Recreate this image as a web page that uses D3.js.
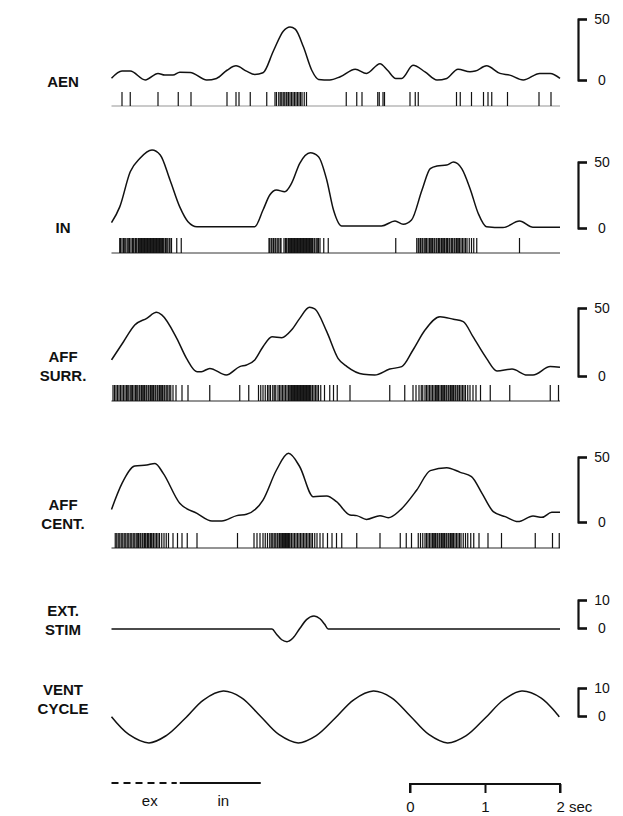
<!DOCTYPE html>
<html>
<head>
<meta charset="utf-8">
<script src="https://cdn.jsdelivr.net/npm/d3@7"></script>
<style>
  html, body { margin: 0; padding: 0; background: #fff; }
  svg { display: block; }
  text { font-family: "Liberation Sans", Arial, sans-serif; fill: #111; }
</style>
</head>
<body>
<svg id="chart" width="623" height="816"></svg>
<script>
// ---- smoothed firing rates (impulses/s) as [time s, rate] ----
const aenRate = [[0.02,1.4],[0.16,7.3],[0.27,7.3],[0.47,0],[0.64,5.4],[0.73,4],[0.84,4],[0.93,6.4],[1.07,6.2],
  [1.29,0],[1.42,1.3],[1.56,8],[1.68,11.6],[1.82,7.3],[1.93,4.6],[2.04,5.9],[2.18,24],[2.31,40],[2.40,43.5],
  [2.47,41.7],[2.58,27],[2.69,8],[2.78,0.5],[2.93,0],[3.07,2.7],[3.27,8.9],[3.42,5.4],[3.60,13.4],[3.70,8],
  [3.81,1.3],[3.89,1.3],[4.04,12],[4.20,6.7],[4.36,0],[4.49,1.3],[4.64,8.9],[4.80,6.7],[4.87,7.3],[5.02,11.6],
  [5.20,5.4],[5.33,4],[5.51,0],[5.73,5.4],[5.87,5.4],[6.0,1.4]];

const inRate = [[0.02,4],[0.13,16],[0.27,42.6],[0.40,52.8],[0.56,59],[0.67,55.3],[0.80,36.4],[0.93,16],[1.04,4.8],
  [1.16,1],[1.93,1],[2.04,13.6],[2.13,25],[2.22,28.8],[2.33,27.5],[2.42,33.8],[2.53,49],[2.67,57],[2.78,54],
  [2.89,36.4],[2.98,13.6],[3.09,1.5],[3.62,1.5],[3.80,5.3],[3.91,2.8],[4.02,6],[4.16,28.8],[4.27,45],[4.36,47],
  [4.49,47.7],[4.58,50],[4.69,45],[4.80,30],[4.91,11],[5.02,1],[5.24,0.3],[5.46,5.3],[5.64,0.5],[6.0,0.5]];

const surrRate = [[0.02,11.8],[0.18,25.2],[0.33,37.5],[0.49,42.4],[0.62,46.8],[0.69,44.9],[0.89,27.7],[1.02,13],
  [1.16,3.2],[1.22,3.2],[1.33,5.6],[1.55,0.7],[1.73,6.9],[1.82,8.1],[1.93,11.8],[2.04,21.5],[2.16,28.9],
  [2.29,28.2],[2.42,33.8],[2.53,42.4],[2.66,50.5],[2.73,49.3],[2.89,32.6],[3.04,13],[3.16,6.9],[3.38,1.2],
  [3.53,0.7],[3.73,5.1],[3.89,6.9],[4.04,19.1],[4.20,33.8],[4.40,43.6],[4.58,41.7],[4.71,40],[4.84,28.9],
  [5.02,13],[5.16,3.7],[5.36,5.1],[5.56,0.7],[5.64,0.7],[5.87,6.9],[6.0,6.4]];

const centRate = [[0.02,9.7],[0.16,29.7],[0.33,43],[0.49,43.8],[0.60,45],[0.71,37.4],[0.93,14.4],[1.16,6.7],
  [1.36,0.8],[1.49,0.8],[1.69,4.9],[1.82,5.9],[2.04,16.9],[2.22,40],[2.38,52.8],[2.53,42.5],[2.71,19.5],
  [2.89,20],[3.02,15.6],[3.20,5.4],[3.29,4.9],[3.42,2],[3.60,4.9],[3.71,3.3],[3.87,9.2],[4.09,24.6],[4.27,39.5],
  [4.49,41.8],[4.67,38.2],[4.82,34.9],[4.96,22],[5.11,8],[5.27,4.1],[5.44,0.3],[5.64,4.6],[5.76,3.6],
  [5.89,7.5],[6.0,7.5]];

// ---- spike times (s) ----
const aenSpikes = [0.16,0.27,0.64,0.91,1.08,1.56,1.68,1.72,1.87,2.09,2.20,2.22,2.25,2.27,2.29,2.31,2.33,2.35,2.36,
  2.38,2.40,2.42,2.44,2.46,2.48,2.50,2.52,2.54,2.56,2.59,2.62,3.15,3.29,3.36,3.57,3.59,3.64,3.66,4.00,4.07,
  4.11,4.62,4.67,4.82,4.98,5.04,5.09,5.30,5.72,5.88];

const inSpikes = [0.13,0.14,0.16,0.18,0.19,0.21,0.23,0.25,0.26,0.28,0.30,0.31,0.32,0.34,0.35,0.36,0.38,0.39,0.40,
  0.41,0.42,0.43,0.44,0.45,0.46,0.47,0.48,0.49,0.50,0.51,0.52,0.53,0.54,0.55,0.56,0.57,0.58,0.59,0.60,0.61,
  0.62,0.63,0.64,0.65,0.66,0.67,0.68,0.69,0.70,0.71,0.72,0.74,0.75,0.77,0.79,0.80,0.82,0.89,0.95,
  2.12,2.13,2.15,2.16,2.18,2.20,2.21,2.23,2.25,2.27,2.28,2.32,2.34,2.35,2.36,2.38,2.39,2.40,2.41,2.42,2.43,
  2.44,2.45,2.46,2.47,2.48,2.49,2.50,2.51,2.52,2.53,2.54,2.55,2.56,2.57,2.58,2.59,2.60,2.61,2.62,2.63,2.64,
  2.65,2.66,2.67,2.68,2.69,2.70,2.72,2.73,2.75,2.77,2.78,2.80,2.85,2.91,
  3.81,
  4.09,4.11,4.12,4.14,4.16,4.17,4.19,4.21,4.22,4.24,4.26,4.27,4.29,4.30,4.32,4.33,4.35,4.36,4.38,4.39,4.40,
  4.42,4.43,4.45,4.46,4.48,4.49,4.50,4.52,4.53,4.55,4.56,4.57,4.59,4.60,4.62,4.63,4.65,4.66,4.68,4.70,4.72,
  4.74,4.76,4.79,4.82,4.85,4.89,
  5.46];

const surrSpikes = [0.04,0.06,0.08,0.10,0.12,0.14,0.16,0.18,0.20,0.22,0.23,0.25,0.27,0.29,0.30,0.32,0.34,0.35,
  0.37,0.39,0.40,0.42,0.43,0.45,0.46,0.48,0.49,0.51,0.52,0.54,0.55,0.57,0.58,0.60,0.61,0.63,0.64,0.66,0.67,
  0.69,0.70,0.72,0.73,0.75,0.77,0.79,0.81,0.84,0.88,0.96,1.04,
  1.33,1.73,1.85,
  1.98,2.01,2.04,2.07,2.10,2.12,2.14,2.17,2.19,2.21,2.24,2.26,2.28,2.30,2.32,2.34,2.36,2.38,2.39,2.41,2.42,
  2.43,2.44,2.45,2.46,2.47,2.48,2.49,2.50,2.51,2.52,2.53,2.54,2.55,2.56,2.57,2.58,2.59,2.60,2.61,2.62,2.63,
  2.64,2.65,2.66,2.67,2.68,2.70,2.72,2.74,2.76,2.78,2.81,2.86,2.93,2.98,3.03,
  3.20,3.73,3.93,
  4.04,4.08,4.12,4.15,4.17,4.20,4.22,4.24,4.26,4.28,4.30,4.32,4.34,4.35,4.37,4.38,4.40,4.42,4.43,4.45,4.46,
  4.48,4.49,4.51,4.52,4.54,4.55,4.57,4.58,4.60,4.61,4.63,4.64,4.66,4.68,4.70,4.72,4.74,4.77,4.80,4.84,4.88,
  4.94,5.07,
  5.33,5.87,5.98];

const centSpikes = [0.07,0.09,0.11,0.13,0.15,0.17,0.19,0.21,0.23,0.25,0.27,0.29,0.31,0.33,0.35,0.37,0.38,0.40,
  0.41,0.43,0.44,0.46,0.47,0.48,0.50,0.51,0.52,0.54,0.55,0.56,0.58,0.60,0.62,0.64,0.66,0.69,0.72,0.75,0.78,
  0.84,0.90,0.96,1.03,1.16,
  1.70,
  1.92,1.96,2.00,2.04,2.07,2.10,2.13,2.15,2.17,2.19,2.21,2.23,2.24,2.26,2.27,2.29,2.30,2.31,2.32,2.33,2.34,
  2.35,2.36,2.37,2.38,2.39,2.40,2.42,2.44,2.46,2.48,2.50,2.52,2.54,2.56,2.58,2.60,2.62,2.64,2.66,2.68,2.70,
  2.73,2.76,2.80,2.84,2.90,2.96,3.02,3.09,
  3.29,3.60,3.87,3.95,4.02,
  4.11,4.14,4.17,4.20,4.22,4.24,4.26,4.28,4.30,4.31,4.33,4.34,4.36,4.37,4.39,4.40,4.42,4.43,4.45,4.46,4.48,
  4.49,4.51,4.52,4.54,4.55,4.57,4.58,4.60,4.62,4.64,4.66,4.68,4.71,4.74,4.77,4.81,4.85,4.92,5.04,
  5.22,5.67,5.90,5.99];

// ---- analogue traces ----
const stimTrace = [[0.02,-0.4],[2.16,-0.4],[2.22,-2.2],[2.29,-4.2],[2.36,-4.9],[2.44,-3.6],[2.53,-0.2],
  [2.62,3.0],[2.72,4.3],[2.80,3.3],[2.86,1.4],[2.91,-0.4],[6.0,-0.4]];

const ventTrace = [[0.02,-0.3],[0.25,-6.6],[0.52,-9.6],[0.75,-7.0],[1.0,-0.9],[1.25,5.8],[1.51,8.9],[1.75,6.6],
  [2.0,0.1],[2.25,-6.6],[2.51,-9.6],[2.75,-7.0],[3.0,-0.8],[3.25,5.8],[3.51,8.9],[3.75,6.6],[4.0,0.1],
  [4.25,-6.6],[4.50,-9.6],[4.75,-7.0],[5.0,-0.8],[5.25,5.8],[5.49,8.9],[5.75,6.4],[5.99,-0.3]];

// ---- phase bars and time scale ----
const phaseLabels = ["ex", "in"];
const phaseStart = [0.02, 0.93];
const phaseEnd = [0.89, 2.01];
const phaseLabelAt = [0.53, 1.51];
const timeBarTicks = [4, 5, 6];
const timeBarLabels = ["0", "1", "2 sec"];

// ---- layout ----
const svg = d3.select("#chart");
const x = d3.scaleLinear().domain([0, 6]).range([110, 560]);

const panels = [
  { label: ["AEN"], labelY: [82], rate: aenRate, spikes: aenSpikes, scaleMax: 50, top: 19, bottom: 80,
    spikeTop: 92, spikeBase: 106, baseOpacity: 0.45, curve: d3.curveMonotoneX },
  { label: ["IN"], labelY: [228], rate: inRate, spikes: inSpikes, scaleMax: 50, top: 162, bottom: 228,
    spikeTop: 238, spikeBase: 253, baseOpacity: 0.85, curve: d3.curveMonotoneX },
  { label: ["AFF", "SURR."], labelY: [357, 376], rate: surrRate, spikes: surrSpikes, scaleMax: 50, top: 308, bottom: 376,
    spikeTop: 385, spikeBase: 401, baseOpacity: 0.9, curve: d3.curveMonotoneX },
  { label: ["AFF", "CENT."], labelY: [505, 524], rate: centRate, spikes: centSpikes, scaleMax: 50, top: 457, bottom: 522,
    spikeTop: 533, spikeBase: 548, baseOpacity: 0.9, curve: d3.curveMonotoneX },
  { label: ["EXT.", "STIM"], labelY: [611, 630], rate: stimTrace, spikes: null, scaleMax: 10, top: 600, bottom: 628,
    curve: d3.curveMonotoneX },
  { label: ["VENT", "CYCLE"], labelY: [690, 709], rate: ventTrace, spikes: null, scaleMax: 10, top: 688, bottom: 716,
    curve: d3.curveCatmullRom }
];

panels.forEach(p => {
  const g = svg.append("g");
  const y = d3.scaleLinear().domain([0, p.scaleMax]).range([p.bottom, p.top]);

  // channel name on the left
  p.label.forEach((s, i) => {
    g.append("text")
      .attr("x", 63).attr("y", p.labelY[i])
      .attr("dy", "0.36em")
      .attr("text-anchor", "middle")
      .style("font-size", "15px").style("font-weight", "bold")
      .text(s);
  });

  // rate / analogue trace
  const line = d3.line().x(d => x(d[0])).y(d => y(d[1])).curve(p.curve);
  g.append("path")
    .datum(p.rate)
    .attr("d", line)
    .attr("fill", "none")
    .attr("stroke", "#111")
    .attr("stroke-width", 1.5)
    .attr("stroke-linejoin", "round");

  // spike raster
  if (p.spikes) {
    g.append("line")
      .attr("x1", x(0.02)).attr("x2", x(6))
      .attr("y1", p.spikeBase).attr("y2", p.spikeBase)
      .attr("stroke", "#111").attr("stroke-width", 1)
      .attr("stroke-opacity", p.baseOpacity);
    g.selectAll("line.spike")
      .data(p.spikes)
      .join("line")
      .attr("class", "spike")
      .attr("x1", d => x(d)).attr("x2", d => x(d))
      .attr("y1", p.spikeTop).attr("y2", p.spikeBase)
      .attr("stroke", "#111").attr("stroke-width", 1.2);
  }

  // calibration bracket on the right
  const ax = g.append("g")
    .attr("transform", "translate(578,0)")
    .call(d3.axisRight(y).tickValues([0, p.scaleMax]).tickSize(9).tickSizeOuter(9).tickPadding(12));
  ax.select(".domain").attr("stroke", "#111").attr("stroke-width", 2.2).attr("fill", "none");
  ax.selectAll(".tick line").attr("stroke", "#111").attr("stroke-width", 2.2);
  ax.selectAll(".tick text")
    .attr("x", 24)
    .attr("text-anchor", "middle")
    .style("font-family", "'Liberation Sans', Arial, sans-serif")
    .style("font-size", "14px")
    .attr("fill", "#111");
});

// expiration / inspiration phase bars
const phases = svg.append("g");
phaseLabels.forEach((lab, i) => {
  phases.append("line")
    .attr("x1", x(phaseStart[i])).attr("x2", x(phaseEnd[i]))
    .attr("y1", 783).attr("y2", 783)
    .attr("stroke", "#111").attr("stroke-width", 2)
    .attr("stroke-dasharray", i === 0 ? "7,5" : null);
  phases.append("text")
    .attr("x", x(phaseLabelAt[i])).attr("y", 801)
    .attr("dy", "0.36em")
    .attr("text-anchor", "middle")
    .style("font-size", "15px")
    .text(lab);
});

// time calibration bar
const tb = svg.append("g")
  .attr("transform", "translate(0,784)")
  .call(d3.axisBottom(x).tickValues(timeBarTicks).tickSize(9).tickSizeOuter(9).tickPadding(8)
    .tickFormat((d, i) => timeBarLabels[i]));
tb.select(".domain").attr("stroke", "#111").attr("stroke-width", 2).attr("fill", "none")
  .attr("d", `M${x(4)},9V0H${x(6)}V9`);
tb.selectAll(".tick line").attr("stroke", "#111").attr("stroke-width", 2);
tb.selectAll(".tick text")
  .style("font-family", "'Liberation Sans', Arial, sans-serif")
  .style("font-size", "15px")
  .attr("fill", "#111");
tb.selectAll(".tick text").filter((d, i) => i === timeBarTicks.length - 1)
  .attr("text-anchor", "start").attr("x", -4);
</script>
</body>
</html>
